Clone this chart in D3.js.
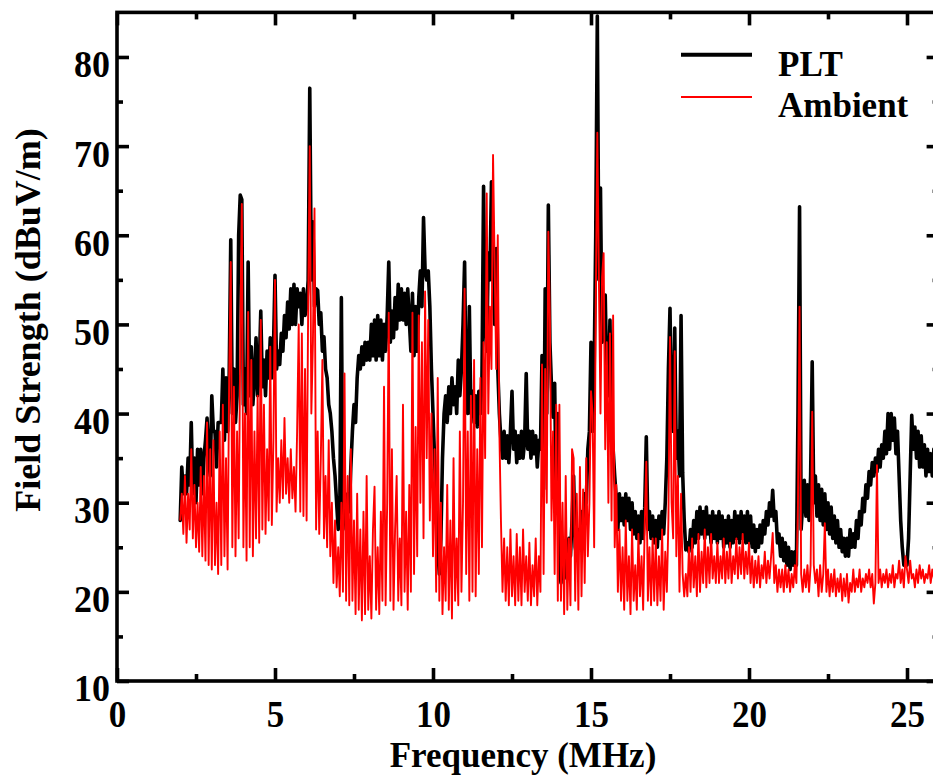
<!DOCTYPE html>
<html>
<head>
<meta charset="utf-8">
<script src="https://cdn.jsdelivr.net/npm/d3@7"></script>
<style>
  html, body { margin: 0; padding: 0; background: #fff; }
  svg { display: block; }
  text { font-family: "Liberation Serif", "Times New Roman", serif; font-weight: bold; fill: #000; }
</style>
</head>
<body>
<svg id="chart" width="933" height="783"></svg>
<script>
// Sweep grid of the receiver (MHz)
const freqStart = 2.0;
const freqStep = 0.05;

// Field strength with the PLT system on (dBuV/m), one row per MHz
const pltValues = [
  28, 34, 31, 33, 31, 35, 32, 39, 31, 35, 30, 36, 32, 36, 31, 35, 37, 39.5, 35, 33,
  42, 38, 38, 34, 39, 39, 39, 45, 37, 44, 38, 44, 59.5, 40, 45, 39, 42, 60, 64.5, 64,
  41, 45, 40, 57, 42, 47.5, 41, 44, 48.5, 42, 45, 51.5, 43, 46, 42, 47, 44, 48.5, 44, 47,
  55.5, 45, 47, 45.5, 49, 47, 51, 48.5, 52.5, 49.5, 54, 50, 54.5, 50, 54, 52, 53.5, 50, 54, 51,
  52, 55, 76.5, 55, 61.5, 52, 54, 53.8, 50, 51.3, 47, 48.6, 45, 44, 41, 40, 38, 35, 33, 30,
  27, 29, 53, 28, 30, 27, 31, 29, 34, 38, 41, 39, 44, 46.5, 45, 47.5, 45.5, 48, 46, 48,
  46, 50, 46.5, 50.5, 46, 51, 46.5, 50.5, 46, 50, 47, 51, 57, 48, 51.5, 48.5, 53, 49.5, 54.5, 50.5,
  54, 50.5, 53.5, 50, 54, 50.5, 47, 53.5, 46.5, 52, 47, 53, 56, 52, 62, 56, 55, 56, 52, 45,
  40, 35, 30, 25, 22, 26, 35, 40, 42, 39, 43, 40, 44, 41, 43, 40, 46, 42, 45, 50,
  57, 42, 40, 52, 40, 42.5, 39, 42, 38.5, 42.5, 40, 44, 65.5, 50, 47, 58, 55, 66, 56, 50,
  58.5, 45, 40, 37, 35, 38, 35, 37.5, 34.5, 38, 42.5, 36, 38, 34.5, 37.5, 35, 38, 35, 37, 44.5,
  36, 38, 35, 38, 35.5, 37.5, 34, 37, 36, 46.5, 31.5, 54, 40, 63.4, 48, 43, 39.6, 43.4, 30, 40,
  23, 21, 24, 21.5, 25, 22, 26, 24, 28, 33, 25, 24, 27, 25, 29, 27, 31, 30, 36, 38,
  48, 38, 45, 60, 84.6, 55, 65.3, 48, 50, 53.3, 44, 42, 50.5, 38, 36, 33, 30.5, 27, 31, 28,
  30.5, 27.5, 31, 28, 30.5, 27, 30, 26.5, 29, 26, 28.5, 25.5, 29, 26, 29.5, 37.4, 27, 29, 26, 28.5,
  25.5, 28, 25, 28.5, 26, 29, 26.5, 30, 35, 45, 51.8, 40, 38, 49.6, 35, 38, 33, 51, 33.4, 28,
  24.7, 25.5, 24.5, 27, 25, 28, 25.5, 29, 26, 29.5, 26.5, 29, 26, 29.5, 26.5, 28.5, 25.5, 29, 26, 28.5,
  25.5, 29, 26, 28.5, 25, 28, 25.5, 28.5, 25, 28, 25.5, 29, 26, 28.5, 25.5, 29, 26, 28.5, 25.5, 29,
  25.5, 28.5, 25, 27.5, 24.5, 27, 25, 27.5, 25.5, 28, 26.5, 29, 27.5, 30, 28.5, 31.4, 28, 29, 25.5, 26.5,
  24, 26, 23.5, 25.5, 23, 25, 22.5, 24.5, 23, 24.5, 23, 40, 63.2, 27, 30, 32.5, 28.5, 32, 28, 33,
  45.8, 30, 33, 28.5, 32, 28, 31.5, 27.5, 31, 27, 30, 26.5, 29.5, 26, 28.5, 25.5, 28, 25, 27, 24.5,
  26, 24, 26, 24, 27, 25, 26.5, 25, 28, 26, 29, 27.5, 30.5, 29, 32, 30.5, 33.5, 32, 34.5, 33,
  35, 33.5, 36, 34, 36.5, 35, 38, 35.5, 40, 36, 40, 37, 39.5, 35.5, 38, 33, 28, 25, 23, 23.5,
  23, 26, 33, 39.8, 36, 38.5, 35, 38, 34, 37.5, 34, 36.5, 33, 36, 33.5, 35.5, 33, 36, 33.5, 35.5
];

// Ambient field strength with the PLT system off (dBuV/m)
const ambientValues = [
  28, 31, 26.5, 33, 25.5, 31, 27, 36, 26, 32, 25, 30, 24.5, 34, 24, 33, 23.5, 39, 23, 36,
  22.5, 37, 23, 30, 22, 38, 23, 41, 24, 35, 22.5, 44, 57, 25, 43, 24, 38, 26, 48, 63.5,
  25, 40, 23.5, 51.4, 25, 46, 24, 38, 26, 42, 25.5, 50.5, 27, 41, 26.5, 36, 28, 47.5, 27.5, 37,
  55, 29, 35, 30, 37, 30.5, 39.5, 31, 35, 30, 36, 30.5, 34, 29, 38, 50, 29, 49, 28.5, 45,
  28, 52, 70, 40, 48, 63, 27, 38, 26.5, 35, 46, 26, 33, 25, 37, 24, 30, 21, 28, 20.5,
  25, 19.5, 30, 20, 44.5, 19, 33, 18.5, 36, 19, 28, 17.5, 31, 18, 27, 16.8, 29, 17.5, 33, 18,
  24, 17, 27, 31.8, 18, 25, 17.5, 29, 19, 43, 18.5, 30, 51.3, 19, 36, 18, 27, 33, 19, 26,
  18.5, 41, 20, 29, 18, 32, 20, 51.3, 22, 38.5, 24, 51, 30, 48, 26, 53.7, 35, 50.5, 28, 40,
  24, 36, 20, 44, 19, 30, 17.5, 25, 19, 32, 18, 28, 17, 35, 19, 26, 18.5, 38, 20, 30,
  54, 22, 38, 19, 42, 20, 46, 19.5, 36, 22, 44, 25, 48, 35, 64.7, 40, 52, 45, 69, 57,
  45, 60, 38, 28, 20, 26, 19, 25, 18.5, 27, 19.5, 24, 18.5, 26.5, 19, 25, 18.5, 27, 20, 24,
  19, 25.5, 18.5, 23, 19.5, 26, 18.5, 24, 20, 45.5, 22, 45, 30, 60.4, 50.5, 28, 38, 22, 41, 19,
  41, 19, 30, 17.5, 33, 18, 26, 18.5, 36, 35, 19, 31, 18, 34, 19.5, 31.5, 21, 35, 24, 30,
  42.5, 40, 25, 52, 71.5, 55, 40, 55.3, 58, 36, 48, 30, 49, 28, 51, 25, 32, 20, 27, 19,
  25, 18, 28, 19, 24, 17.5, 27, 19, 23, 18, 26.5, 19.5, 24, 18, 27.5, 34.6, 19, 25, 18.5, 26,
  19, 26, 18.5, 24, 19, 27, 18, 24.5, 20, 28, 48.6, 30, 26, 47, 24, 33, 20, 31, 22, 19.5,
  22, 19.5, 25, 20, 26, 20.5, 24, 19.5, 26.5, 20, 24.5, 21, 27, 20.5, 25, 21, 26.5, 21.5, 24, 21,
  25.5, 21, 24, 21.5, 26, 21, 24.5, 21.5, 25.5, 21, 24, 22, 26, 21.5, 25, 22, 26.5, 21.5, 24.5, 22,
  25.5, 21, 24, 20.5, 23.5, 21, 24, 20.5, 23, 21.5, 24.5, 21, 23.5, 21.5, 24, 26.6, 21, 23, 20, 22.5,
  20.5, 22.5, 20, 23, 20.5, 22.5, 20, 22, 20.5, 23, 21, 30, 52, 22, 20, 22.5, 20.5, 23, 20, 23,
  40.2, 23, 21, 22.5, 19.5, 23, 20, 22, 27.7, 20, 22.5, 19.5, 22, 20, 22.5, 19.5, 21.5, 20, 22, 19,
  21.5, 19.5, 22, 18.8, 21, 20, 22.5, 20, 21.5, 20.5, 22.5, 20, 21.5, 20.5, 22, 21, 22.5, 20.5, 22, 18.7,
  21, 34.2, 21, 22.5, 20.5, 22, 21, 22.5, 20.5, 22, 21, 23, 20.5, 22, 21.5, 23.5, 21, 22.5, 20.5, 24,
  22.5, 21, 23.5, 21.5, 22, 20.5, 22.5, 21, 23, 21.5, 22.5, 21, 22, 21.5, 23, 21, 22.5, 21.5, 23, 22
];

const seriesNames = ["PLT", "Ambient"];
const seriesColors = ["#000000", "#ff0000"];
const xMajorTicks = [0, 5, 10, 15, 20, 25];
const xMinorTicks = [2.5, 7.5, 12.5, 17.5, 22.5];
const yMajorTicks = [10, 20, 30, 40, 50, 60, 70, 80];
const yMinorTicks = [15, 25, 35, 45, 55, 65, 75];
const xTitle = "Frequency (MHz)";
const yTitle = "Field Strength (dBuV/m)";

const svg = d3.select("#chart");
const plotLeft = 117, plotRight = 938.6, plotTop = 12.4, plotBottom = 681;

const x = d3.scaleLinear().domain([0, 26]).range([plotLeft, plotRight]);
const y = d3.scaleLinear().domain([10, 85]).range([plotBottom, plotTop]);

const freqs = pltValues.map((_, i) => freqStart + i * freqStep);
const toPoints = vals => vals.map((v, i) => [freqs[i], v]);

svg.append("clipPath").attr("id", "plot-clip")
  .append("rect")
  .attr("x", plotLeft).attr("y", plotTop)
  .attr("width", plotRight - plotLeft).attr("height", plotBottom - plotTop);

const line = d3.line().x(d => x(d[0])).y(d => y(d[1]));

const plot = svg.append("g").attr("clip-path", "url(#plot-clip)");
plot.append("path")
  .datum(toPoints(pltValues))
  .attr("d", line)
  .attr("fill", "none")
  .attr("stroke", seriesColors[0])
  .attr("stroke-width", 3.6)
  .attr("stroke-linejoin", "round")
  .attr("stroke-linecap", "round");
plot.append("path")
  .datum(toPoints(ambientValues))
  .attr("d", line)
  .attr("fill", "none")
  .attr("stroke", seriesColors[1])
  .attr("stroke-width", 1.9)
  .attr("stroke-linejoin", "round");

// Frame
svg.append("rect")
  .attr("x", plotLeft).attr("y", plotTop)
  .attr("width", plotRight - plotLeft).attr("height", plotBottom - plotTop)
  .attr("fill", "none").attr("stroke", "#000").attr("stroke-width", 3.6);

function styleAxis(g) {
  g.select(".domain").remove();
  g.selectAll(".tick line").attr("stroke", "#000").attr("stroke-width", 3.6);
}

const labelScale = "scale(1,1.08)";

// Bottom axis with labels
svg.append("g").attr("transform", `translate(0,${plotBottom})`)
  .call(d3.axisBottom(x).tickValues(xMajorTicks).tickSizeInner(-13).tickSizeOuter(0).tickPadding(0).tickFormat(d3.format("d")))
  .call(styleAxis)
  .call(g => g.selectAll(".tick text")
    .attr("font-size", 35).attr("font-family", null)
    .attr("y", 0).attr("dy", 42.5).attr("transform", labelScale));
svg.append("g").attr("transform", `translate(0,${plotBottom})`)
  .call(d3.axisBottom(x).tickValues(xMinorTicks).tickSizeInner(-7).tickSizeOuter(0).tickFormat(""))
  .call(styleAxis);

// Top axis (ticks only)
svg.append("g").attr("transform", `translate(0,${plotTop})`)
  .call(d3.axisTop(x).tickValues(xMajorTicks).tickSizeInner(-13).tickSizeOuter(0).tickFormat(""))
  .call(styleAxis);
svg.append("g").attr("transform", `translate(0,${plotTop})`)
  .call(d3.axisTop(x).tickValues(xMinorTicks).tickSizeInner(-7).tickSizeOuter(0).tickFormat(""))
  .call(styleAxis);

// Left axis with labels
svg.append("g").attr("transform", `translate(${plotLeft},0)`)
  .call(d3.axisLeft(y).tickValues(yMajorTicks).tickSizeInner(-12).tickSizeOuter(0).tickPadding(7).tickFormat(d3.format("d")))
  .call(styleAxis)
  .call(g => g.selectAll(".tick text")
    .attr("font-size", 36).attr("font-family", null)
    .attr("dy", 18.5).attr("transform", labelScale));
svg.append("g").attr("transform", `translate(${plotLeft},0)`)
  .call(d3.axisLeft(y).tickValues(yMinorTicks).tickSizeInner(-6).tickSizeOuter(0).tickFormat(""))
  .call(styleAxis);

// Right axis (ticks only)
svg.append("g").attr("transform", `translate(${plotRight},0)`)
  .call(d3.axisRight(y).tickValues(yMajorTicks).tickSizeInner(-12).tickSizeOuter(0).tickFormat(""))
  .call(styleAxis);
svg.append("g").attr("transform", `translate(${plotRight},0)`)
  .call(d3.axisRight(y).tickValues(yMinorTicks).tickSizeInner(-6).tickSizeOuter(0).tickFormat(""))
  .call(styleAxis);

// Axis titles
svg.append("text")
  .attr("x", (plotLeft + 933) / 2 - 2).attr("y", 767)
  .attr("text-anchor", "middle").attr("font-size", 35)
  .text(xTitle);
svg.append("text")
  .attr("transform", `translate(40,${320}) rotate(-90)`)
  .attr("text-anchor", "middle").attr("font-size", 36)
  .text(yTitle);

// Legend
const legend = svg.append("g");
const legendRows = [
  { name: seriesNames[0], color: seriesColors[0], width: 4, ly: 54.7, ty: 76 },
  { name: seriesNames[1], color: seriesColors[1], width: 2.2, ly: 97, ty: 117 }
];
legendRows.forEach(r => {
  legend.append("line")
    .attr("x1", 681).attr("x2", 752)
    .attr("y1", r.ly).attr("y2", r.ly)
    .attr("stroke", r.color).attr("stroke-width", r.width);
  legend.append("text")
    .attr("x", 778).attr("y", r.ty)
    .attr("font-size", 35)
    .text(r.name);
});
</script>
</body>
</html>
